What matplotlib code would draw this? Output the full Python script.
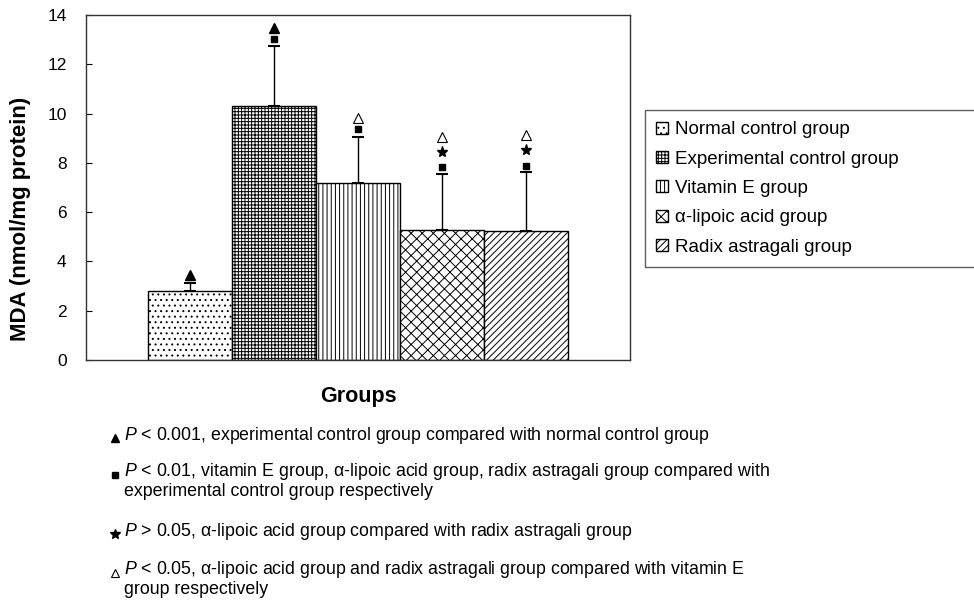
import matplotlib
matplotlib.use('Agg')
from matplotlib import pyplot as plt
from matplotlib import transforms
from matplotlib.lines import Line2D

plt.rcParams['font.family'] = ['Liberation Sans', 'DejaVu Sans']
plt.rcParams['mathtext.fontset'] = 'custom'
plt.rcParams['mathtext.it'] = 'Liberation Sans:italic'
plt.rcParams['mathtext.rm'] = 'Liberation Sans'
plt.rcParams['hatch.linewidth'] = 0.7

# data
groups = ['Normal control group', 'Experimental control group', 'Vitamin E group',
          '\u03b1-lipoic acid group', 'Radix astragali group']
mda = [2.79, 10.3, 7.17, 5.28, 5.22]
sd = [0.34, 2.46, 1.88, 2.25, 2.39]
hatches = ['...', '+++++', '||||', 'xxx', '/////']
# significance marks stacked above each error bar (bottom to top)
marks = [['tri'], ['sq', 'tri'], ['sq', 'otri'], ['sq', 'star', 'otri'], ['sq', 'star', 'otri']]
mark_offsets = [[5.5], [5, 13], [5.5, 13.5], [5, 16, 27], [5, 16, 27]]

mark_style = {
    'tri': dict(marker='^', markersize=7, markerfacecolor='black', markeredgecolor='black'),
    'sq': dict(marker='s', markersize=5, markerfacecolor='black', markeredgecolor='black'),
    'star': dict(marker='*', markersize=8, markerfacecolor='black', markeredgecolor='black'),
    'otri': dict(marker='^', markersize=7, markerfacecolor='white', markeredgecolor='black',
                 markeredgewidth=0.8),
}

notes = [
    ('tri', ['$P$ < 0.001, experimental control group compared with normal control group']),
    ('sq', ['$P$ < 0.01, vitamin E group, \u03b1-lipoic acid group, radix astragali group compared with',
            'experimental control group respectively']),
    ('star', ['$P$ > 0.05, \u03b1-lipoic acid group compared with radix astragali group']),
    ('otri', ['$P$ < 0.05, \u03b1-lipoic acid group and radix astragali group compared with vitamin E',
              'group respectively']),
]
note_y = [435, 472, 531, 570]

W, H = 974, 606
fig = plt.figure(figsize=(W / 100, H / 100), dpi=100)
ax = fig.add_axes([86 / W, 1 - 360 / H, (630 - 86) / W, (360 - 15) / H])

x = list(range(len(groups)))
bars = []
for i in x:
    b = ax.bar(i, mda[i], width=1.0, color='white', edgecolor='black', linewidth=1.0,
               hatch=hatches[i], zorder=2)
    bars.append(b)
ax.errorbar(x, mda, yerr=[[0] * len(sd), sd], fmt='none', ecolor='black', elinewidth=1.0,
            capsize=4, capthick=1.5, zorder=3)

for i in x:
    top = mda[i] + sd[i]
    for m, off in zip(marks[i], mark_offsets[i]):
        tr = transforms.offset_copy(ax.transData, fig=fig, y=off, units='points')
        ax.plot([i], [top], linestyle='none', transform=tr, zorder=4, clip_on=False,
                **mark_style[m])

ax.set_xlim(-1.24, 5.24)
ax.set_ylim(0, 14)
ax.set_yticks(range(0, 15, 2))
ax.set_xticks([])
ax.tick_params(axis='y', direction='in', length=4, labelsize=12.5, pad=14)
for s in ax.spines.values():
    s.set_linewidth(1.0)
    s.set_color('#333333')
ax.set_ylabel('MDA (nmol/mg protein)', fontsize=16, fontweight='bold')
ax.yaxis.set_label_coords(-0.101, 0.41)
ax.set_xlabel('Groups', fontsize=15.5, fontweight='bold', labelpad=19)

leg = fig.legend(handles=bars, labels=groups, loc='upper left',
                 bbox_to_anchor=(645 / W, 1 - 264 / H, 340 / W, 154 / H),
                 mode='expand', fontsize=13.5, handlelength=0.6, handleheight=0.6,
                 handletextpad=0.4, labelspacing=0.66, borderaxespad=0,
                 fancybox=False, frameon=True, borderpad=0.6)
leg.get_frame().set_edgecolor('#333333')
leg.get_frame().set_linewidth(1.0)

for (m, lines), yy in zip(notes, note_y):
    style = dict(mark_style[m])
    style['markersize'] = style['markersize'] - 1
    fig.add_artist(Line2D([115 / W], [1 - (yy + 3) / H], transform=fig.transFigure,
                          linestyle='none', **style))
    for k, txt in enumerate(lines):
        fig.text(124 / W, 1 - (yy + 19 * k) / H, txt, fontsize=12.8, va='center', ha='left')

fig.savefig('out.png', dpi=100)
